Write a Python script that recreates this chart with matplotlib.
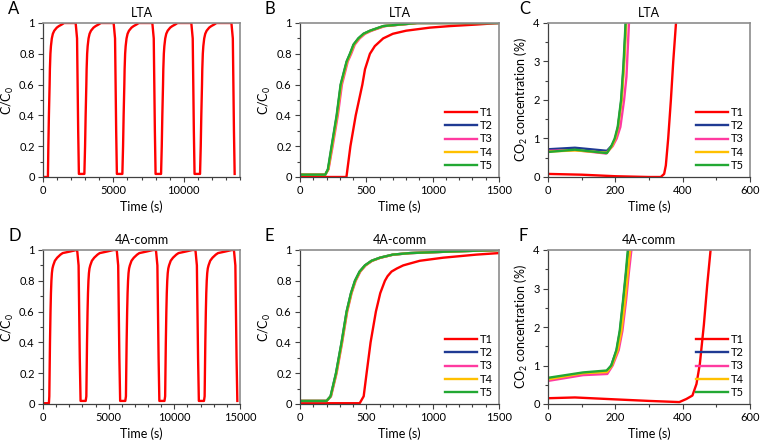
import numpy as np
import matplotlib.pyplot as plt
from matplotlib.ticker import MultipleLocator, FormatStrFormatter

plt.rcParams['font.family'] = ['Lato', 'DejaVu Sans']
plt.rcParams['mathtext.fontset'] = 'custom'
plt.rcParams['mathtext.rm'] = 'Lato'

labels = ['T1', 'T2', 'T3', 'T4', 'T5']
colors = ['#FF0000', '#1F3A93', '#FF3AA0', '#FFC000', '#22A833']

# ---- cyclic runs (A, D): one rise and one drop shape, repeated at read start times
lta_rise_dt = [0, 30, 70, 120, 140, 177, 214, 277, 350, 450, 630, 780, 980, 1150]
lta_rise_c = [0, 0.2, 0.4, 0.6, 0.7, 0.8, 0.85, 0.9, 0.93, 0.95, 0.97, 0.98, 0.99, 1.0]
lta_drop_dt = [0, 100, 180, 230, 620]
lta_drop_c = [1.0, 0.9, 0.3, 0.02, 0.02]
lta_rise_starts = [350, 2960, 5660, 8410, 11180]
lta_drop_starts = [2320, 5020, 7770, 10540, 13390]
lta_end = 13650

comm_rise_dt = [0, 30, 52, 82, 122, 155, 190, 227, 270, 328, 453, 629, 879, 1050, 1600, 2100]
comm_rise_c = [0.005, 0.05, 0.2, 0.4, 0.6, 0.72, 0.8, 0.85, 0.88, 0.9, 0.93, 0.95, 0.97, 0.98, 0.99, 1.0]
comm_drop_dt = [0, 110, 200, 260, 650]
comm_drop_c = [1.0, 0.9, 0.3, 0.02, 0.02]
comm_rise_starts = [450, 3270, 6285, 9270, 12277]
comm_drop_starts = [2600, 5615, 8600, 11607, 14537]
comm_end = 14830

# ---- first breakthrough (B, E)
b_t = [
    [0, 350, 380, 420, 470, 490, 527, 564, 627, 700, 800, 980, 1130, 1330, 1500],
    [0, 190, 212, 240, 278, 308, 353, 378, 405, 441, 480, 530, 630, 755, 880, 1500],
    [0, 190, 215, 246, 285, 316, 360, 386, 413, 450, 490, 540, 640, 765, 890, 1500],
    [0, 190, 213, 242, 280, 310, 355, 380, 407, 443, 483, 532, 632, 758, 884, 1500],
    [0, 190, 210, 238, 276, 306, 351, 376, 403, 439, 478, 527, 627, 752, 878, 1500],
]
b_c = [
    [0, 0, 0.2, 0.4, 0.6, 0.7, 0.8, 0.85, 0.9, 0.93, 0.95, 0.97, 0.98, 0.99, 1.0],
    [0.015, 0.015, 0.05, 0.2, 0.4, 0.6, 0.75, 0.8, 0.86, 0.9, 0.93, 0.95, 0.98, 0.99, 1.0, 1.0],
    [0.015, 0.015, 0.05, 0.2, 0.4, 0.6, 0.75, 0.8, 0.86, 0.9, 0.93, 0.95, 0.98, 0.99, 1.0, 1.0],
    [0.015, 0.015, 0.05, 0.2, 0.4, 0.6, 0.75, 0.8, 0.86, 0.9, 0.93, 0.95, 0.98, 0.99, 1.0, 1.0],
    [0.015, 0.015, 0.05, 0.2, 0.4, 0.6, 0.75, 0.8, 0.86, 0.9, 0.93, 0.95, 0.98, 0.99, 1.0, 1.0],
]
e_t = [
    [0, 450, 480, 502, 532, 572, 605, 640, 660, 690, 730, 778, 840, 903, 1079, 1329, 1500],
    [0, 200, 231, 272, 314, 352, 385, 415, 450, 490, 540, 603, 700, 830, 1130, 1500],
    [0, 200, 234, 276, 318, 356, 389, 420, 455, 495, 545, 608, 705, 835, 1135, 1500],
    [0, 200, 232, 274, 316, 354, 387, 417, 452, 492, 542, 605, 702, 832, 1132, 1500],
    [0, 200, 230, 271, 313, 351, 384, 414, 449, 489, 539, 602, 699, 828, 1129, 1500],
]
e_c = [
    [0.005, 0.005, 0.05, 0.2, 0.4, 0.6, 0.72, 0.8, 0.83, 0.86, 0.88, 0.9, 0.915, 0.93, 0.95, 0.97, 0.98],
    [0.02, 0.02, 0.05, 0.2, 0.4, 0.6, 0.72, 0.8, 0.86, 0.9, 0.93, 0.95, 0.97, 0.98, 0.99, 1.0],
    [0.02, 0.02, 0.05, 0.2, 0.4, 0.6, 0.72, 0.8, 0.86, 0.9, 0.93, 0.95, 0.97, 0.98, 0.99, 1.0],
    [0.02, 0.02, 0.05, 0.2, 0.4, 0.6, 0.72, 0.8, 0.86, 0.9, 0.93, 0.95, 0.97, 0.98, 0.99, 1.0],
    [0.02, 0.02, 0.05, 0.2, 0.4, 0.6, 0.72, 0.8, 0.86, 0.9, 0.93, 0.95, 0.97, 0.98, 0.99, 1.0],
]

# ---- CO2 concentration at start (C, F)
c_t = [
    [0, 100, 200, 300, 335, 345, 350, 357, 365, 372, 381],
    [0, 80, 175, 190, 200, 208, 218, 225, 232],
    [0, 80, 172, 192, 204, 215, 226, 233, 241],
    [0, 80, 175, 190, 200, 208, 219, 226, 233],
    [0, 80, 175, 188, 198, 207, 217, 224, 231],
]
c_c = [
    [0.08, 0.06, 0.02, 0.0, 0.0, 0.08, 0.3, 1.0, 2.0, 3.0, 4.1],
    [0.72, 0.76, 0.68, 0.82, 1.0, 1.3, 2.0, 2.9, 4.1],
    [0.68, 0.70, 0.61, 0.8, 1.0, 1.3, 2.0, 2.6, 4.1],
    [0.66, 0.69, 0.63, 0.8, 1.0, 1.3, 2.0, 2.9, 4.1],
    [0.65, 0.71, 0.62, 0.8, 1.0, 1.3, 2.0, 2.9, 4.1],
]
f_t = [
    [0, 80, 200, 300, 390, 411, 429, 441, 451, 463, 473, 484],
    [0, 104, 174, 188, 204, 214, 224, 232, 240],
    [0, 104, 176, 192, 210, 221, 232, 240, 249],
    [0, 104, 175, 190, 207, 218, 229, 237, 245],
    [0, 104, 174, 188, 203, 213, 223, 231, 238],
]
f_c = [
    [0.15, 0.17, 0.12, 0.08, 0.05, 0.13, 0.22, 0.52, 1.04, 2.06, 3.1, 4.1],
    [0.66, 0.80, 0.84, 1.0, 1.4, 1.9, 2.7, 3.4, 4.1],
    [0.60, 0.75, 0.78, 1.0, 1.4, 1.9, 2.7, 3.4, 4.1],
    [0.64, 0.80, 0.83, 1.0, 1.4, 1.9, 2.7, 3.4, 4.1],
    [0.68, 0.82, 0.87, 1.0, 1.4, 1.9, 2.7, 3.4, 4.1],
]


def build_cycles(rise_dt, rise_c, drop_dt, drop_c, rise_starts, drop_starts, end):
    t = [0]
    c = [rise_c[0]]
    for i in range(len(drop_starts)):
        if i < len(rise_starts):
            k0 = 0 if i == 0 else 1
            for dt, v in zip(rise_dt[k0:], rise_c[k0:]):
                t.append(rise_starts[i] + dt)
                c.append(v)
        for dt, v in zip(drop_dt, drop_c):
            if drop_starts[i] + dt > end:
                break
            t.append(drop_starts[i] + dt)
            c.append(v)
    return t, c


fig = plt.figure(figsize=(7.6, 4.46), dpi=100)
W, H = 760, 446


def make_ax(x0, x1, y0, y1):
    return fig.add_axes([x0 / W, 1 - y1 / H, (x1 - x0) / W, (y1 - y0) / H])


def style(ax, xmax, xmaj, xmin, ymax, ymaj, ymin, title, ylabel):
    ax.set_xlim(0, xmax)
    ax.set_ylim(0, ymax)
    ax.xaxis.set_major_locator(MultipleLocator(xmaj))
    ax.xaxis.set_minor_locator(MultipleLocator(xmin))
    ax.yaxis.set_major_locator(MultipleLocator(ymaj))
    ax.yaxis.set_minor_locator(MultipleLocator(ymin))
    ax.yaxis.set_major_formatter(FormatStrFormatter('%g'))
    ax.tick_params(which='both', direction='out', labelsize=8, color='#404040', pad=2.5)
    ax.tick_params(which='major', length=3.5, width=0.8)
    ax.tick_params(which='minor', length=2.5, width=0.8)
    for s in ['left', 'bottom']:
        ax.spines[s].set_color('#404040')
        ax.spines[s].set_linewidth(0.9)
    for s in ['top', 'right']:
        ax.spines[s].set_color('#8C8C8C')
        ax.spines[s].set_linewidth(1.2)
    ax.set_title(title, fontsize=9, pad=4)
    ax.set_xlabel('Time (s)', fontsize=9, labelpad=3)
    ax.set_ylabel(ylabel, fontsize=9, labelpad=2)


cc_label = r'C/C$_\mathregular{0}$'
co2_label = r'CO$_\mathregular{2}$ concentration (%)'

rows = [(23, 177), (250, 404)]
cols = [(43, 240), (300, 499), (548, 750)]

# A
ax = make_ax(*cols[0], *rows[0])
t, c = build_cycles(lta_rise_dt, lta_rise_c, lta_drop_dt, lta_drop_c,
                    lta_rise_starts, lta_drop_starts, lta_end)
ax.plot(t, c, color=colors[0], lw=1.7)
style(ax, 14000, 5000, 1000, 1, 0.2, 0.1, 'LTA', cc_label)

# D
ax = make_ax(*cols[0], *rows[1])
t, c = build_cycles(comm_rise_dt, comm_rise_c, comm_drop_dt, comm_drop_c,
                    comm_rise_starts, comm_drop_starts, comm_end)
ax.plot(t, c, color=colors[0], lw=1.7)
style(ax, 15000, 5000, 1000, 1, 0.2, 0.1, '4A-comm', cc_label)

# B, E, C, F
panels = [
    (cols[1], rows[0], b_t, b_c, 1500, 500, 100, 1, 0.2, 0.1, 'LTA', cc_label),
    (cols[1], rows[1], e_t, e_c, 1500, 500, 100, 1, 0.2, 0.1, '4A-comm', cc_label),
    (cols[2], rows[0], c_t, c_c, 600, 200, 100, 4, 1, 0.5, 'LTA', co2_label),
    (cols[2], rows[1], f_t, f_c, 600, 200, 100, 4, 1, 0.5, '4A-comm', co2_label),
]
for col, row, ts, cs, xmax, xmaj, xmin, ymax, ymaj, ymin, title, ylab in panels:
    ax = make_ax(*col, *row)
    for i in range(5):
        ax.plot(ts[i], cs[i], color=colors[i], lw=1.7, label=labels[i])
    style(ax, xmax, xmaj, xmin, ymax, ymaj, ymin, title, ylab)
    ax.legend(loc='lower right', frameon=False, fontsize=8, handlelength=2.8,
              handletextpad=0.3, labelspacing=0.2, borderaxespad=0.15)

# panel letters
for letter, x, y in [('A', 8, 14), ('B', 265, 14), ('C', 519, 14),
                     ('D', 8, 241), ('E', 265, 241), ('F', 519, 241)]:
    fig.text(x / W, 1 - y / H, letter, fontsize=12, va='baseline', ha='left')

fig.savefig('out.png', dpi=100)
